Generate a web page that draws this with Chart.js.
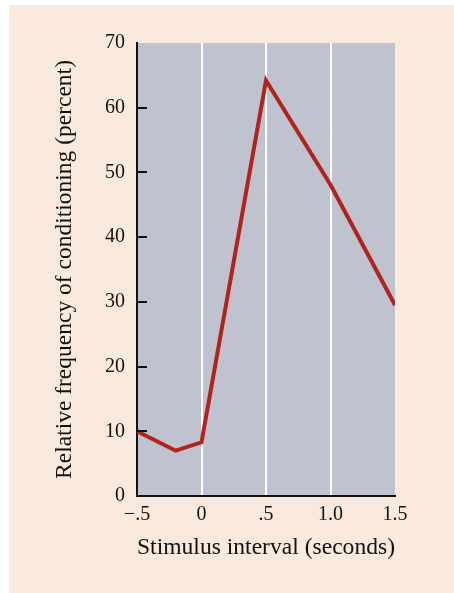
<!DOCTYPE html>
<html>
<head>
<meta charset="utf-8">
<script src="https://cdn.jsdelivr.net/npm/chart.js@4/dist/chart.umd.min.js"></script>
<style>
  html, body { margin: 0; padding: 0; background: #ffffff; }
  #wrap { width: 454px; height: 593px; }
</style>
</head>
<body>
<div id="wrap"><canvas id="chart" width="454" height="593"></canvas></div>
<script>
// stimulus interval (seconds) vs relative frequency of conditioning (percent)
var intervals = [-0.5, -0.2, 0.0, 0.5, 1.0, 1.5];
var frequency = [10, 7, 8.3, 64.2, 48.1, 29.5];
var xTicks = [-0.5, 0, 0.5, 1.0, 1.5];
var xTickLabels = ['\u2212.5', '0', '.5', '1.0', '1.5'];
var yTicks = [0, 10, 20, 30, 40, 50, 60, 70];

var serif = '"Liberation Serif", "DejaVu Serif", serif';

var points = [];
for (var i = 0; i < intervals.length; i++) {
    points.push({x: intervals[i], y: frequency[i]});
}

// peach page + grey plot box
var backdrop = {
    id: 'backdrop',
    beforeDraw: function(chart) {
        var ctx = chart.ctx;
        var a = chart.chartArea;
        ctx.save();
        ctx.fillStyle = '#fae9dd';
        ctx.fillRect(9, 5, chart.width - 9, chart.height - 5);
        ctx.fillStyle = '#bfc3cf';
        ctx.fillRect(a.left, a.top, a.right - a.left, a.bottom - a.top);
        ctx.restore();
    }
};

// little ticks pointing into the plot on the y axis
var innerTicks = {
    id: 'innerTicks',
    afterDatasetsDraw: function(chart) {
        var ctx = chart.ctx;
        var y = chart.scales.y;
        var a = chart.chartArea;
        ctx.save();
        ctx.strokeStyle = '#111111';
        ctx.lineWidth = 2;
        for (var i = 1; i < yTicks.length - 1; i++) {
            var py = Math.round(y.getPixelForValue(yTicks[i]));
            ctx.beginPath();
            ctx.moveTo(a.left, py);
            ctx.lineTo(a.left + 10, py);
            ctx.stroke();
        }
        ctx.restore();
    }
};

var ctx = document.getElementById('chart').getContext('2d');
var myChart = new Chart(ctx, {
    type: 'line',
    data: {
        datasets: [{
            data: points,
            borderColor: '#b0241d',
            borderWidth: 4,
            pointRadius: 0,
            tension: 0,
            fill: false
        }]
    },
    options: {
        responsive: false,
        animation: false,
        layout: { padding: { left: 0, right: 59, top: 43, bottom: 31 } },
        plugins: {
            legend: { display: false },
            tooltip: { enabled: false }
        },
        scales: {
            x: {
                type: 'linear',
                min: -0.5,
                max: 1.5,
                afterBuildTicks: function(scale) {
                    scale.ticks = xTicks.map(function(v) { return {value: v}; });
                },
                afterFit: function(scale) { scale.height = 66; },
                ticks: {
                    color: '#111111',
                    font: { family: serif, size: 20 },
                    padding: 7,
                    maxRotation: 0,
                    callback: function(v) {
                        var k = xTicks.indexOf(v);
                        return k >= 0 ? xTickLabels[k] : '';
                    }
                },
                grid: {
                    drawTicks: false,
                    color: function(c) {
                        var v = c.tick ? c.tick.value : null;
                        return (v === -0.5 || v === 1.5) ? 'rgba(0,0,0,0)' : '#ffffff';
                    },
                    lineWidth: 2
                },
                border: { display: true, color: '#111111', width: 2 },
                title: {
                    display: true,
                    text: 'Stimulus interval (seconds)',
                    color: '#111111',
                    font: { family: serif, size: 24 },
                    padding: { top: 0, bottom: 0 }
                }
            },
            y: {
                min: 0,
                max: 70,
                afterBuildTicks: function(scale) {
                    scale.ticks = yTicks.map(function(v) { return {value: v}; });
                },
                afterFit: function(scale) { scale.width = 137; },
                ticks: {
                    color: '#111111',
                    font: { family: serif, size: 20 },
                    padding: 12
                },
                grid: { display: false, drawTicks: false },
                border: { display: true, color: '#111111', width: 2 },
                title: {
                    display: true,
                    text: 'Relative frequency of conditioning (percent)',
                    color: '#111111',
                    font: { family: serif, size: 23.5 },
                    padding: { top: 51, bottom: 0 }
                }
            }
        }
    },
    plugins: [backdrop, innerTicks]
});
</script>
</body>
</html>
